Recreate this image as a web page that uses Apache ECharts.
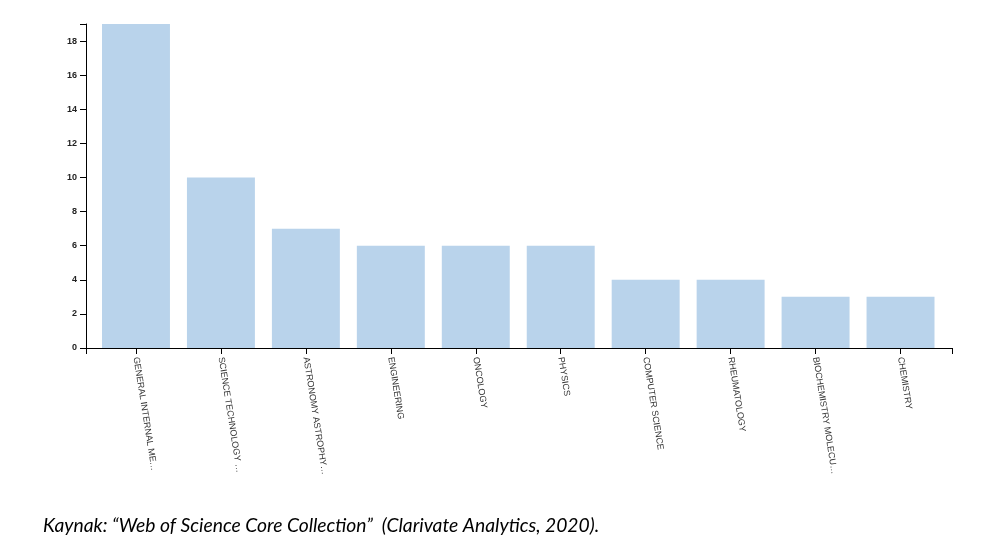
<!DOCTYPE html>
<html>
<head>
<meta charset="utf-8">
<script src="https://cdn.jsdelivr.net/npm/echarts@6/dist/echarts.min.js"></script>
<style>
html,body{margin:0;padding:0;background:#fff;}
#chart{width:1001px;height:539px;}
</style>
</head>
<body>
<div id="chart"></div>
<script>
const categories = ["GENERAL INTERNAL ME…","SCIENCE TECHNOLOGY …","ASTRONOMY ASTROPHY…","ENGINEERING","ONCOLOGY","PHYSICS","COMPUTER SCIENCE","RHEUMATOLOGY","BIOCHEMISTRY MOLECU…","CHEMISTRY"];
const values = [19,10,7,6,6,6,4,4,3,3];
const yMax = 19;
const yLabelValues = [0,2,4,6,8,10,12,14,16,18];
const yTickValues = [0,2,4,6,8,10,12,14,16,18,19];
const caption = "Kaynak: “Web of Science Core Collection”  (Clarivate Analytics, 2020).";

const chart = echarts.init(document.getElementById('chart'));
chart.setOption({
  animation: false,
  backgroundColor: '#fff',
  title: {
    text: caption,
    left: 38, top: 511,
    textStyle: {fontFamily: 'Lato', fontStyle: 'italic', fontWeight: 'normal', fontSize: 19.3, color: '#000'}
  },
  grid: [
    {left: 86, right: 49, top: 24, bottom: 191, containLabel: false},
    {left: 93.5, right: 58, top: 24, bottom: 191, containLabel: false}
  ],
  xAxis: [
    {
      gridIndex: 0, type: 'value', min: 0, max: 1,
      axisLine: {show: true, lineStyle: {color: '#000', width: 1}},
      axisTick: {show: true, customValues: [0, 1], length: 6, lineStyle: {color: '#000'}},
      axisLabel: {show: false},
      splitLine: {show: false}
    },
    {
      gridIndex: 1, type: 'category', data: categories,
      axisLine: {show: false},
      axisTick: {show: true, alignWithLabel: true, length: 6, lineStyle: {color: '#000'}},
      axisLabel: {rotate: -81, interval: 0, margin: 9, fontSize: 9, color: '#333', fontFamily: 'Liberation Sans'},
      splitLine: {show: false}
    }
  ],
  yAxis: [
    {
      gridIndex: 0, type: 'value', min: 0, max: yMax, interval: 2,
      axisLine: {show: true, lineStyle: {color: '#000', width: 1}},
      axisTick: {show: true, customValues: yTickValues, length: 6, lineStyle: {color: '#000'}},
      axisLabel: {customValues: yLabelValues, fontSize: 9, fontWeight: 'bold', color: '#222', margin: 9, fontFamily: 'Liberation Sans'},
      splitLine: {show: false}
    },
    {
      gridIndex: 1, type: 'value', min: 0, max: yMax, show: false,
      splitLine: {show: false}
    }
  ],
  series: [{
    type: 'bar', xAxisIndex: 1, yAxisIndex: 1,
    data: values,
    barCategoryGap: '20%',
    itemStyle: {color: '#b9d3eb'}
  }]
});
</script>
</body>
</html>
